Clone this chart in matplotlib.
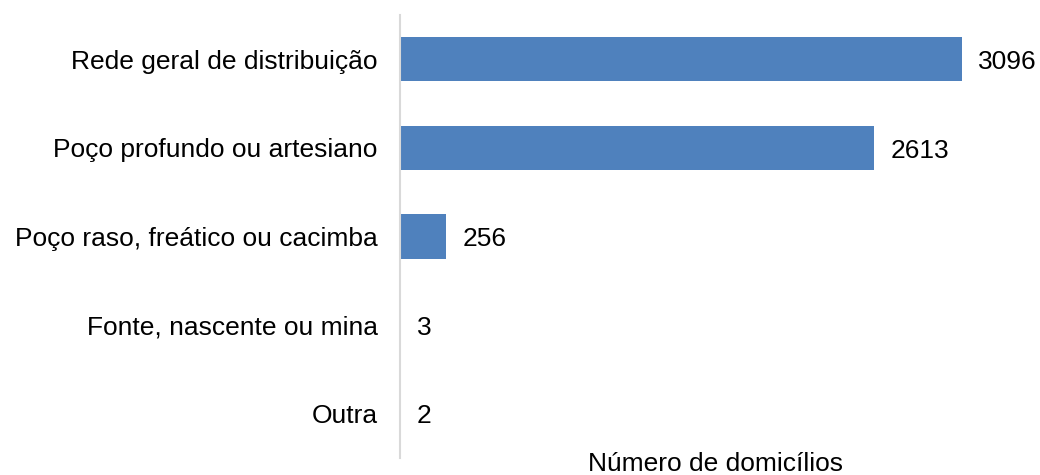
import matplotlib.pyplot as plt

plt.rcParams['font.family'] = ['Liberation Sans', 'DejaVu Sans']

# dados
categorias = ["Rede geral de distribuição", "Poço profundo ou artesiano",
              "Poço raso, freático ou cacimba", "Fonte, nascente ou mina", "Outra"]
valores = [3096, 2613, 256, 3, 2]

fig = plt.figure(figsize=(10.4, 4.75), dpi=100)
ax = fig.add_axes([400 / 1040, 17 / 475, 630 / 1040, 443 / 475])

y = list(range(len(categorias)))
ax.barh(y, valores, height=0.5, color='#4f81bd')
ax.set_ylim(len(categorias) - 0.5, -0.5)
ax.set_xlim(0, 3471)

for yi, v in zip(y, valores):
    ax.text(v + 90, yi + 0.03, str(v), va='center', ha='left', fontsize=19, color='black')

ax.set_yticks(y)
ax.set_yticklabels(categorias, fontsize=19)
ax.tick_params(axis='y', length=0, pad=16)
ax.set_xticks([])

for s in ['top', 'right', 'bottom']:
    ax.spines[s].set_visible(False)
ax.spines['left'].set_color('#d9d9d9')
ax.spines['left'].set_linewidth(1.5)

fig.text(715 / 1040, 1 - 464 / 475, "Número de domicílios", ha='center', va='center', fontsize=19)

fig.savefig('out.png', dpi=100)
